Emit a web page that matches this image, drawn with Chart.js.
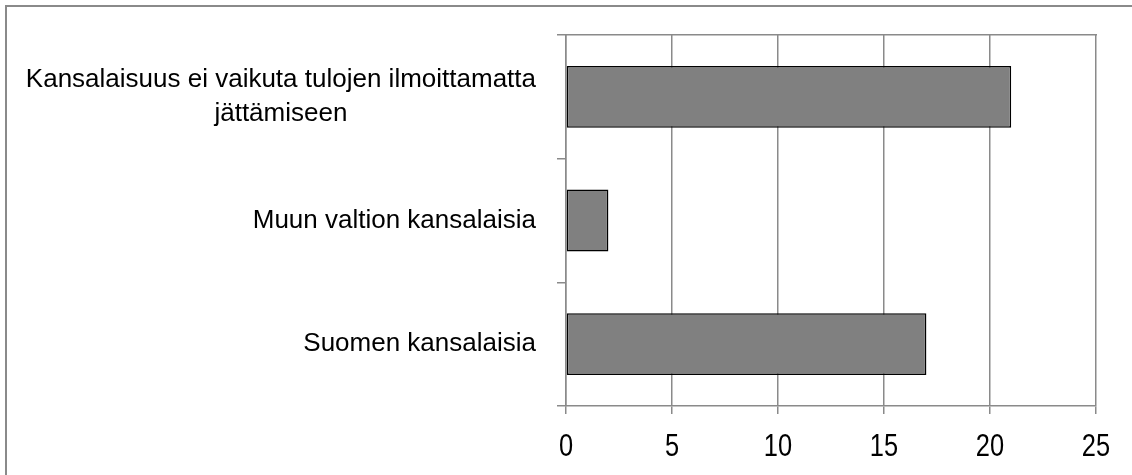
<!DOCTYPE html>
<html>
<head>
<meta charset="utf-8">
<script src="https://cdn.jsdelivr.net/npm/chart.js@4/dist/chart.umd.min.js"></script>
<style>
  html, body { margin: 0; padding: 0; background: #fff; }
  #wrap { width: 1132px; height: 475px; position: relative; }
</style>
</head>
<body>
<div id="wrap"><canvas id="chart"></canvas></div>
<script>
// Categories (a multi-line label is an array of lines)
const categories = [
  ['Kansalaisuus ei vaikuta tulojen ilmoittamatta', 'jättämiseen'],
  'Muun valtion kansalaisia',
  'Suomen kansalaisia'
];
// Number of answers per category
const answers = [21, 2, 17];
// Value axis
const axisMin = 0;
const axisMax = 25;
const axisStep = 5;

const GRID = '#8a8a8a';
const CAT_FONT = '26px "Liberation Sans", Arial, sans-serif';
const CAT_LINE = 34;
const NUM_FONT = '31px "Liberation Sans", Arial, sans-serif';
const NUM_SQUEEZE = 0.82;   // condensed figures on the value axis

// White page with a grey frame around the chart
const frame = {
  id: 'frame',
  beforeDraw(chart) {
    const ctx = chart.ctx;
    ctx.save();
    ctx.fillStyle = '#fff';
    ctx.fillRect(0, 0, chart.width, chart.height);
    ctx.strokeStyle = GRID;
    ctx.lineWidth = 2;
    ctx.strokeRect(6, 6, chart.width + 50, chart.height + 50);
    ctx.restore();
  }
};

// Axis labels: category blocks right-aligned to the axis with lines centred
// inside the block; value labels in narrow figures under each tick
const axisLabels = {
  id: 'axisLabels',
  afterDraw(chart) {
    const ctx = chart.ctx;
    const yScale = chart.scales.y;
    const xScale = chart.scales.x;
    ctx.save();
    ctx.fillStyle = '#000';
    ctx.textAlign = 'center';
    ctx.textBaseline = 'middle';

    ctx.font = CAT_FONT;
    const right = yScale.right - 30;
    categories.forEach((label, i) => {
      const lines = [].concat(label);
      const block = Math.max(...lines.map(l => ctx.measureText(l).width));
      const cx = right - block / 2;
      const cy = yScale.getPixelForValue(i);
      lines.forEach((line, j) => {
        ctx.fillText(line, cx, cy + (j - (lines.length - 1) / 2) * CAT_LINE);
      });
    });

    ctx.font = NUM_FONT;
    const ty = xScale.top + 41;
    xScale.ticks.forEach(t => {
      const px = xScale.getPixelForValue(t.value);
      ctx.save();
      ctx.translate(px, ty);
      ctx.scale(NUM_SQUEEZE, 1);
      ctx.fillText(String(t.value), 0, 0);
      ctx.restore();
    });
    ctx.restore();
  }
};

new Chart(document.getElementById('chart'), {
  type: 'bar',
  data: {
    labels: categories,
    datasets: [{
      data: answers,
      backgroundColor: '#808080',
      borderColor: '#000',
      borderWidth: 1.5,
      borderSkipped: false,
      categoryPercentage: 1,
      barPercentage: 0.5
    }]
  },
  options: {
    indexAxis: 'y',
    responsive: true,
    maintainAspectRatio: false,
    animation: false,
    events: [],
    layout: { padding: { top: 35, right: 36, bottom: 0, left: 0 } },
    plugins: {
      legend: { display: false },
      tooltip: { enabled: false }
    },
    scales: {
      x: {
        position: 'bottom',
        min: axisMin,
        max: axisMax,
        ticks: { stepSize: axisStep, display: false },
        grid: { color: GRID, lineWidth: 1.5, tickLength: 8 },
        border: { color: GRID, width: 1.5 },
        afterFit(scale) { scale.height = 69; }
      },
      xTop: {
        position: 'top',
        display: true,
        ticks: { display: false },
        grid: { display: false },
        border: { color: GRID, width: 1.5 },
        afterFit(scale) { scale.height = 0; }
      },
      y: {
        position: 'left',
        ticks: { display: false },
        grid: { color: GRID, lineWidth: 1.5, tickLength: 9, drawOnChartArea: false, offset: true },
        border: { color: GRID, width: 1.5 },
        afterFit(scale) { scale.width = 566; }
      }
    }
  },
  plugins: [frame, axisLabels]
});
</script>
</body>
</html>
